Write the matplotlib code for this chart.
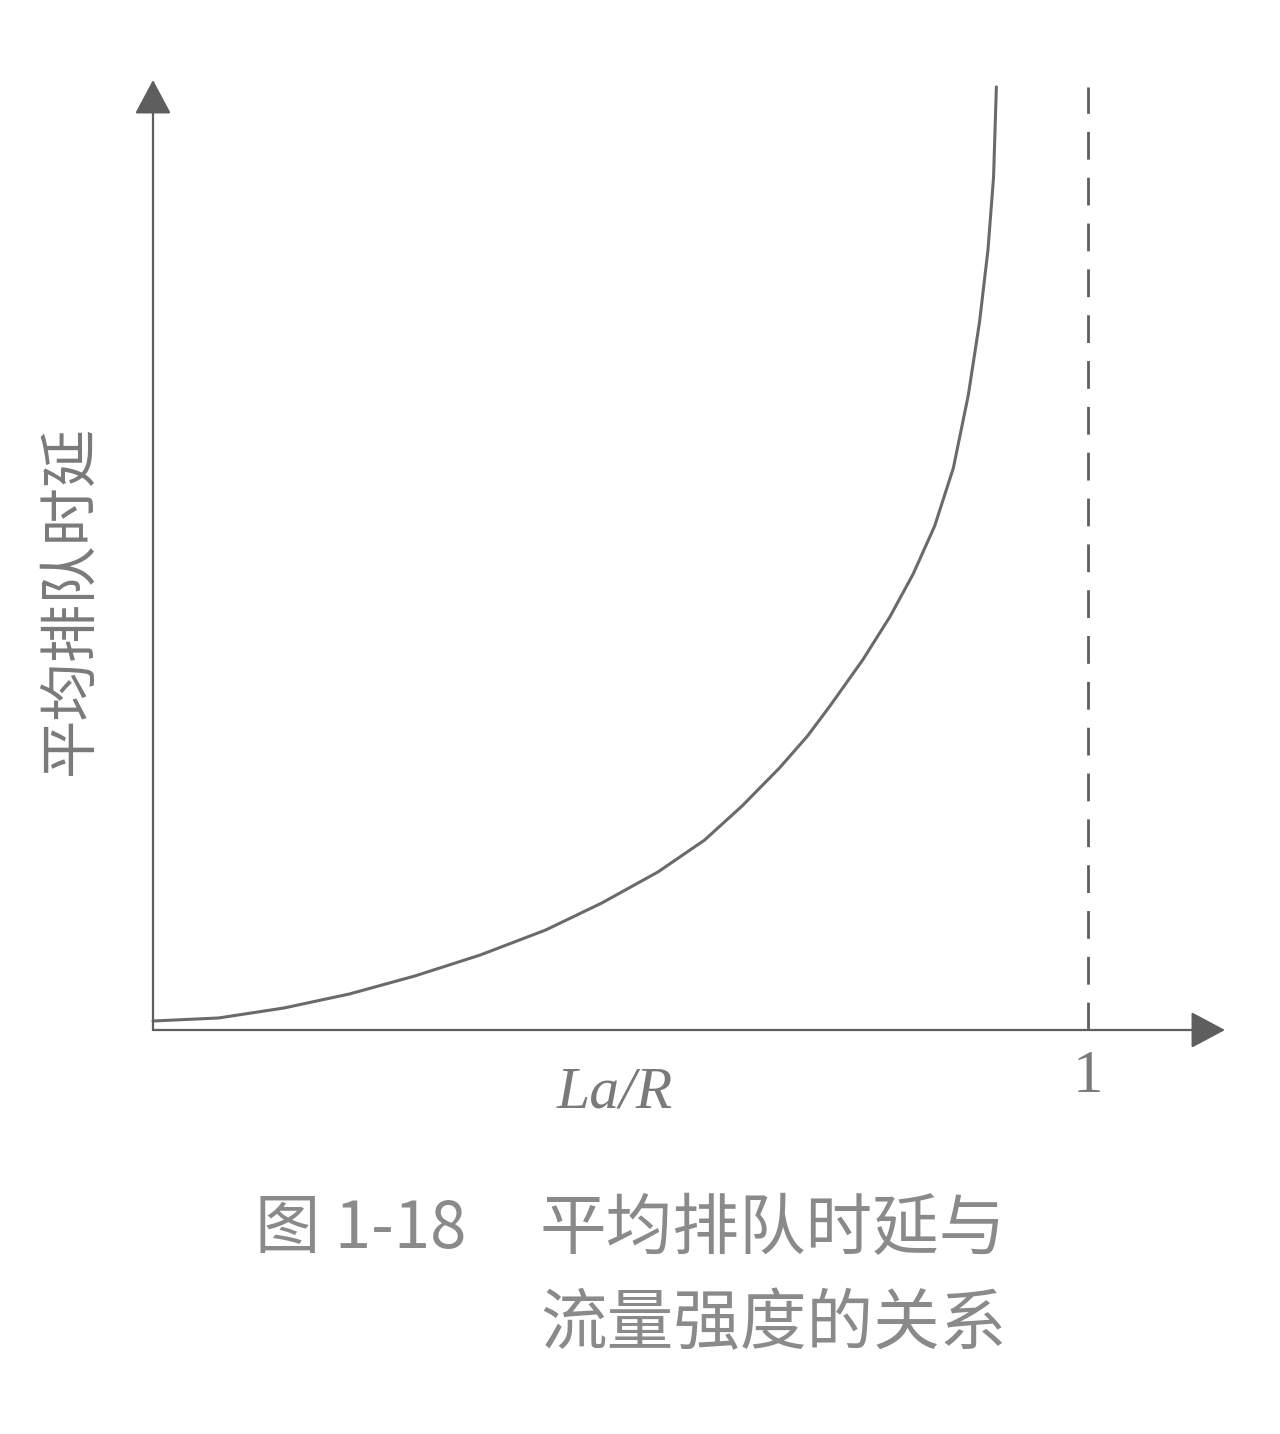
"""Mean queueing delay vs. traffic intensity La/R (textbook figure 1-18)."""
import matplotlib
matplotlib.use("Agg")
import matplotlib.pyplot as plt

plt.rcParams["font.family"] = ["Noto Sans CJK SC", "DejaVu Sans"]

# curve: x = La/R, y = delay (arbitrary units)
intensity = [0.0, 0.07, 0.14, 0.21, 0.28, 0.35, 0.42, 0.48, 0.54, 0.59, 0.63,
             0.67, 0.70, 0.724, 0.759, 0.788, 0.813, 0.836, 0.856, 0.872,
             0.884, 0.893, 0.899, 0.902]
delay = [0.09, 0.12, 0.22, 0.36, 0.54, 0.75, 1.00, 1.27, 1.58, 1.90, 2.24,
         2.62, 2.94, 3.24, 3.70, 4.13, 4.56, 5.04, 5.62, 6.35,
         7.08, 7.80, 8.53, 9.43]
limit_x = 1.0
limit_top = 9.43
x_tick = "1"
x_label = "La/R"
y_label = "平均排队时延"
fig_no = "图 1-18"
caption = ["平均排队时延与", "流量强度的关系"]

W, H = 1280, 1434
AX_COL = "#5e5e5e"
CURVE_COL = "#6a6a6a"
TXT_COL = "#7a7a7a"

fig = plt.figure(figsize=(W / 100, H / 100), dpi=100)
fig.patch.set_facecolor("white")
# origin at px (153, 1030), 935 px per unit in x, 100 px per unit in y
x_end = (1225 - 153) / 935
y_end = (1030 - 80) / 100
ax = fig.add_axes([153 / W, (H - 1030) / H, (1225 - 153) / W, (1030 - 80) / H])
ax.set_xlim(0, x_end)
ax.set_ylim(0, y_end)
ax.axis("off")

arrow = dict(arrowstyle="-|>,head_length=0.6,head_width=0.32", lw=1.6,
             color=AX_COL, mutation_scale=36, shrinkA=0, shrinkB=0)
ax.annotate("", xy=(x_end, 0), xytext=(0, 0), arrowprops=arrow,
            annotation_clip=False)
ax.annotate("", xy=(0, y_end), xytext=(0, 0), arrowprops=arrow,
            annotation_clip=False)

ax.plot([limit_x, limit_x], [0, limit_top], color=AX_COL, lw=2.0,
        dashes=(10, 6.5), clip_on=False)
ax.plot(intensity, delay, color=CURVE_COL, lw=2.2, clip_on=False,
        solid_capstyle="round", solid_joinstyle="round")

ax.text(limit_x, -0.47, x_tick, ha="center", va="center", fontsize=44,
        family="Liberation Serif", color=TXT_COL)
ax.text((615 - 153) / 935, -0.63, x_label, ha="center", va="center",
        fontsize=43, family="Liberation Serif", style="italic", color=TXT_COL)

fig.text(70 / W, (H - 600) / H, y_label, rotation=90, ha="center",
         va="center", fontsize=42, color=TXT_COL)

fig.text(255 / W, (H - 1230) / H, fig_no, ha="left", va="center",
         fontsize=47, color="#8a8a8a")
fig.text(540 / W, (H - 1230) / H, caption[0], ha="left", va="center",
         fontsize=48, color="#8a8a8a")
fig.text(540 / W, (H - 1325) / H, caption[1], ha="left", va="center",
         fontsize=48, color="#8a8a8a")

fig.savefig("out.png", dpi=100)
